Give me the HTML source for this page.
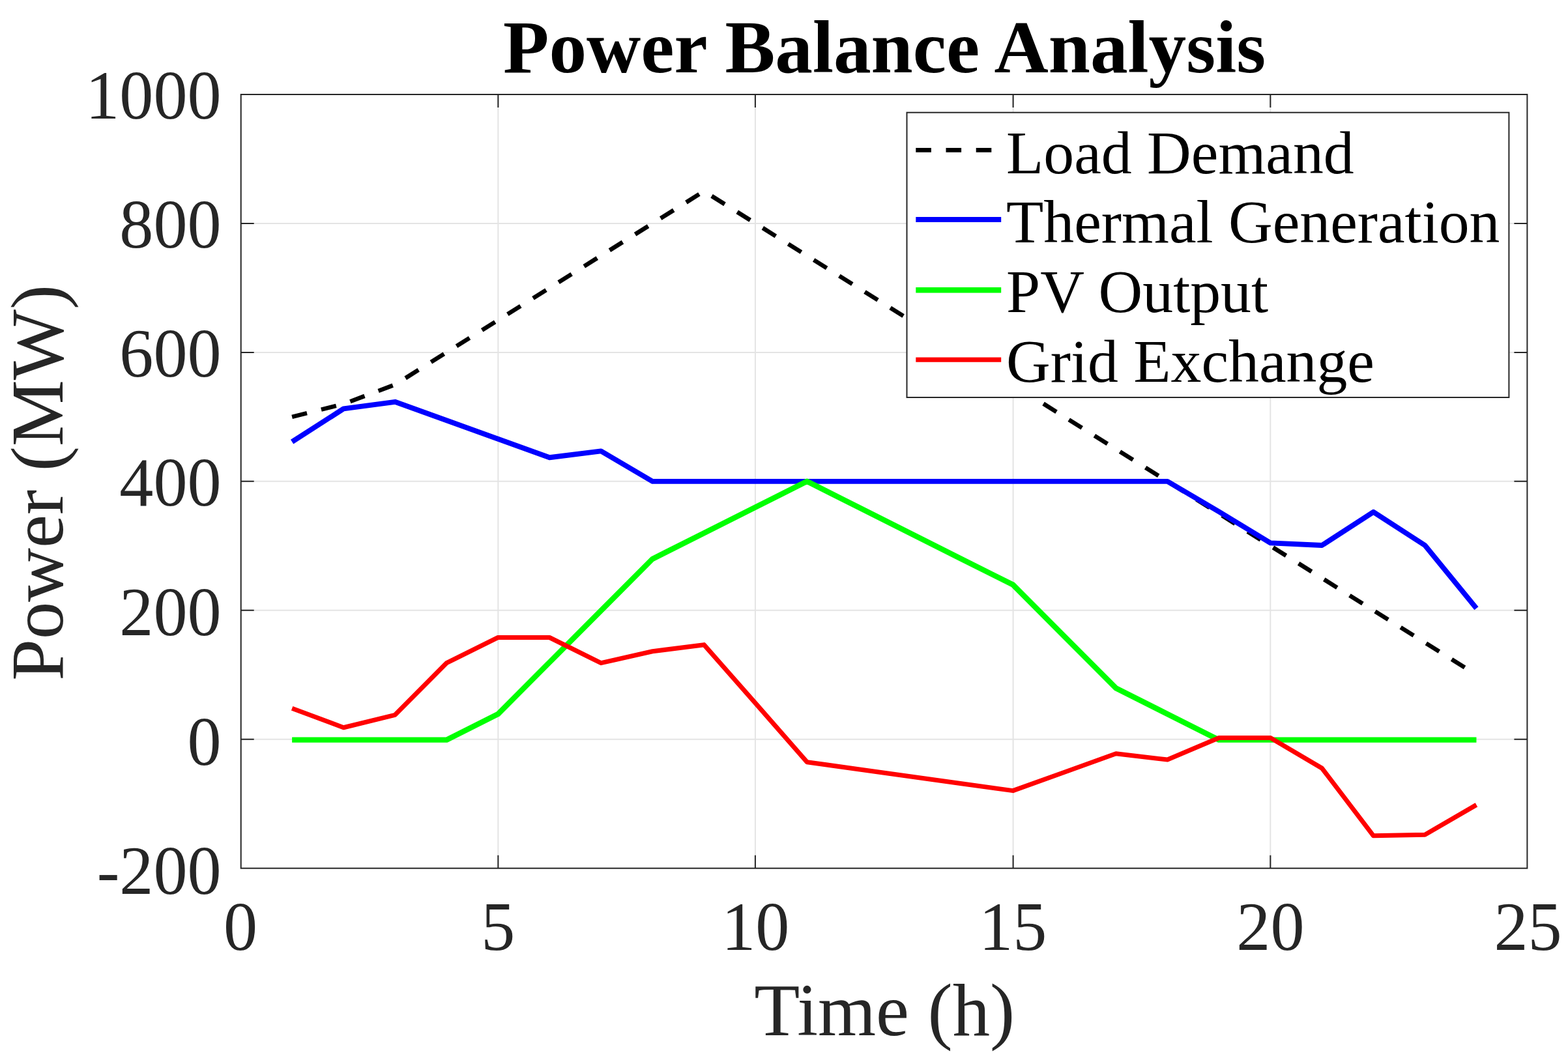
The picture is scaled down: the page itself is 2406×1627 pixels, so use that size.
<!DOCTYPE html>
<html><head><meta charset="utf-8"><title>Power Balance Analysis</title>
<style>html,body{margin:0;padding:0;background:#fff;overflow:hidden}svg{display:block}text{font-family:"Liberation Serif","Times New Roman",serif}</style></head><body>
<svg width="2406" height="1627" viewBox="0 0 2406 1627">
<rect x="0" y="0" width="2406" height="1627" fill="#fff"/>
<path d="M764.35,145.00V1332.70M1158.90,145.00V1332.70M1554.60,145.00V1332.70M1949.35,145.00V1332.70M369.70,1134.75H2343.40M369.70,936.80H2343.40M369.70,738.85H2343.40M369.70,540.90H2343.40M369.70,342.95H2343.40" stroke="#e4e4e4" stroke-width="2" fill="none"/>
<polyline points="448.12,639.88 527.13,620.08 606.14,590.39 685.16,540.90 764.17,491.41 843.19,441.93 922.21,392.44 1001.22,342.95 1080.24,293.46 1159.25,342.95 1238.26,392.44 1317.28,441.93 1396.30,491.41 1475.31,540.90 1554.32,590.39 1633.34,639.88 1712.36,689.36 1791.37,738.85 1870.39,788.34 1949.40,837.83 2028.41,887.31 2107.43,936.80 2186.45,986.29 2265.46,1035.78" fill="none" stroke="#000" stroke-width="6.6" stroke-dasharray="23.6 22.6" stroke-linejoin="round"/>
<polyline points="448.12,678.18 527.13,627.40 606.14,616.81 685.16,645.32 764.17,673.82 843.19,702.23 922.21,692.33 1001.22,738.85 1080.24,738.85 1159.25,738.85 1238.26,738.85 1317.28,738.85 1396.30,738.85 1475.31,738.85 1554.32,738.85 1633.34,738.85 1712.36,738.85 1791.37,738.85 1870.39,785.37 1949.40,833.37 2028.41,837.03 2107.43,785.86 2186.45,837.03 2265.46,933.83" fill="none" stroke="#0000ff" stroke-width="7.9" stroke-linejoin="round"/>
<polyline points="448.12,1135.65 527.13,1135.65 606.14,1135.65 685.16,1135.65 764.17,1095.97 843.19,1016.61 922.21,937.25 1001.22,857.89 1080.24,818.21 1159.25,778.53 1238.26,738.85 1317.28,778.53 1396.30,818.21 1475.31,857.89 1554.32,897.57 1633.34,976.93 1712.36,1056.29 1791.37,1095.97 1870.39,1135.65 1949.40,1135.65 2028.41,1135.65 2107.43,1135.65 2186.45,1135.65 2265.46,1135.65" fill="none" stroke="#00ff00" stroke-width="8.4" stroke-linejoin="round"/>
<polyline points="448.12,1087.24 527.13,1116.74 606.14,1097.34 685.16,1017.66 764.17,978.47 843.19,978.47 922.21,1017.66 1001.22,999.75 1080.24,989.65 1159.25,1079.32 1238.26,1169.69 1317.28,1180.67 1396.30,1191.76 1475.31,1202.75 1554.32,1213.63 1633.34,1185.23 1712.36,1156.72 1791.37,1166.03 1870.39,1132.57 1949.40,1132.57 2028.41,1179.09 2107.43,1282.82 2186.45,1281.23 2265.46,1235.41" fill="none" stroke="#ff0000" stroke-width="7.05" stroke-linejoin="round"/>
<path d="M764.35,1332.70v-20M764.35,145.00v20M1158.90,1332.70v-20M1158.90,145.00v20M1554.60,1332.70v-20M1554.60,145.00v20M1949.35,1332.70v-20M1949.35,145.00v20M369.70,1134.75h20M2343.40,1134.75h-20M369.70,936.80h20M2343.40,936.80h-20M369.70,738.85h20M2343.40,738.85h-20M369.70,540.90h20M2343.40,540.90h-20M369.70,342.95h20M2343.40,342.95h-20" stroke="#262626" stroke-width="2" fill="none"/>
<rect x="369.70" y="145.00" width="1973.70" height="1187.70" fill="none" stroke="#262626" stroke-width="2"/>
<g font-size="104.17" fill="#262626"><text transform="translate(369.10,1458.4) scale(1,1.02)" text-anchor="middle">0</text><text transform="translate(764.17,1458.4) scale(1,1.02)" text-anchor="middle">5</text><text transform="translate(1159.25,1458.4) scale(1,1.02)" text-anchor="middle">10</text><text transform="translate(1554.32,1458.4) scale(1,1.02)" text-anchor="middle">15</text><text transform="translate(1949.40,1458.4) scale(1,1.02)" text-anchor="middle">20</text><text transform="translate(2344.47,1458.4) scale(1,1.02)" text-anchor="middle">25</text><text transform="translate(339.6,1371.80) scale(1,1.02)" text-anchor="end">-200</text><text transform="translate(339.6,1173.60) scale(1,1.02)" text-anchor="end">0</text><text transform="translate(339.6,975.35) scale(1,1.02)" text-anchor="end">200</text><text transform="translate(339.6,776.28) scale(1,1.02)" text-anchor="end">400</text><text transform="translate(339.6,578.20) scale(1,1.02)" text-anchor="end">600</text><text transform="translate(339.6,380.17) scale(1,1.02)" text-anchor="end">800</text><text transform="translate(339.6,182.25) scale(1,1.02)" text-anchor="end">1000</text></g>
<text x="1357.2" y="1589.4" text-anchor="middle" font-size="114.58" fill="#262626">Time (h)</text>
<text transform="translate(95.9,740.8) rotate(-90)" x="0" y="0" text-anchor="middle" font-size="114.58" fill="#262626">Power (MW)</text>
<text x="1357" y="110.8" text-anchor="middle" font-size="115.3" font-weight="bold" fill="#000">Power Balance Analysis</text>
<rect x="1391.5" y="172.7" width="923.90" height="437.30" fill="#fff" stroke="#262626" stroke-width="2"/>
<line x1="1405.3" y1="230.4" x2="1536.2" y2="230.4" stroke="#000" stroke-width="6.6" stroke-dasharray="23.6 22.6"/>
<text x="1544" y="265.7" font-size="93.75" fill="#000">Load Demand</text>
<line x1="1405.3" y1="337.0" x2="1536.2" y2="337.0" stroke="#0000ff" stroke-width="7.9"/>
<text x="1544" y="372.3" font-size="93.75" fill="#000">Thermal Generation</text>
<line x1="1405.3" y1="445.2" x2="1536.2" y2="445.2" stroke="#00ff00" stroke-width="8.4"/>
<text x="1544" y="479.1" font-size="93.75" fill="#000">PV Output</text>
<line x1="1405.3" y1="552.1" x2="1536.2" y2="552.1" stroke="#ff0000" stroke-width="7.05"/>
<text x="1544" y="585.7" font-size="93.75" fill="#000">Grid Exchange</text>
</svg></body></html>
